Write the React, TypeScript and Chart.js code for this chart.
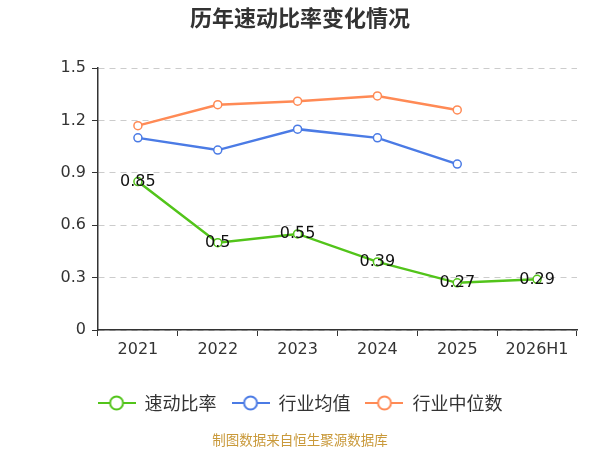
import React, { useEffect, useRef } from 'react';
import { Chart, registerables } from 'chart.js';

Chart.register(...registerables);

// 数据
const categories = ['2021', '2022', '2023', '2024', '2025', '2026H1'];
const quickRatio = [0.85, 0.5, 0.55, 0.39, 0.27, 0.29];
const industryAvg = [1.1, 1.03, 1.15, 1.1, 0.95, null];
const industryMedian = [1.17, 1.29, 1.31, 1.34, 1.26, null];
const yTicks = [0, 0.3, 0.6, 0.9, 1.2, 1.5];

const seriesNames = ['速动比率', '行业均值', '行业中位数'];
const colors = ['#52c41a', '#4b7be5', '#ff8a55'];

const FONT = "'DejaVu Sans', 'Noto Sans CJK SC', sans-serif";
const CJK = "'Noto Sans CJK SC', sans-serif";

// 图例标记：线段 + 空心圆
const makeLegendMarker = (color: string) => {
  const c = document.createElement('canvas');
  c.width = 38;
  c.height = 16;
  const ctx = c.getContext('2d');
  if (ctx) {
    ctx.strokeStyle = color;
    ctx.lineWidth = 2;
    ctx.beginPath();
    ctx.moveTo(0, 8);
    ctx.lineTo(38, 8);
    ctx.stroke();
    ctx.beginPath();
    ctx.arc(19, 8, 6.5, 0, Math.PI * 2);
    ctx.fillStyle = '#fff';
    ctx.fill();
    ctx.stroke();
  }
  return c;
};

const App: React.FC = () => {
  const canvasRef = useRef<HTMLCanvasElement>(null);

  useEffect(() => {
    if (!canvasRef.current) return;
    const markers = colors.map(makeLegendMarker);

    const textPlugin = {
      id: 'extraText',
      afterDatasetsDraw(chart: Chart) {
        const ctx = chart.ctx;
        const meta = chart.getDatasetMeta(0);
        ctx.save();
        ctx.font = `16px ${FONT}`;
        ctx.fillStyle = '#111';
        ctx.textAlign = 'center';
        ctx.textBaseline = 'middle';
        meta.data.forEach((pt: any, i: number) => {
          const v = quickRatio[i];
          if (v == null) return;
          ctx.fillText(String(v), pt.x, pt.y);
        });
        ctx.restore();
      },
      afterDraw(chart: Chart) {
        const ctx = chart.ctx;
        ctx.save();
        ctx.textAlign = 'center';
        ctx.textBaseline = 'middle';
        ctx.font = `bold 22px ${CJK}`;
        ctx.fillStyle = '#333';
        ctx.fillText('历年速动比率变化情况', 300, 18);
        ctx.font = `13.5px ${CJK}`;
        ctx.fillStyle = '#c9993a';
        ctx.fillText('制图数据来自恒生聚源数据库', 300, 440);
        ctx.restore();
      },
    };

    const mkDataset = (i: number, data: (number | null)[]) => ({
      label: seriesNames[i],
      data,
      borderColor: colors[i],
      backgroundColor: '#fff',
      borderWidth: 2.5,
      pointRadius: 4,
      pointBorderWidth: 1.5,
      pointBackgroundColor: '#fff',
      pointBorderColor: colors[i],
      tension: 0,
    });

    const chart = new Chart(canvasRef.current, {
      type: 'line',
      data: {
        labels: categories,
        datasets: [
          mkDataset(0, quickRatio),
          mkDataset(1, industryAvg),
          mkDataset(2, industryMedian),
        ],
      },
      options: {
        responsive: false,
        animation: false,
        layout: { padding: { top: 68, bottom: 28, left: 0, right: 0 } },
        scales: {
          x: {
            offset: true,
            grid: {
              offset: true,
              drawOnChartArea: false,
              drawTicks: true,
              tickLength: 6,
              tickColor: '#333',
            },
            border: { color: '#333', width: 1.5 },
            ticks: {
              color: '#333',
              font: { size: 16, family: FONT },
              padding: 4,
              maxRotation: 0,
              autoSkip: false,
            },
            afterFit: (s: any) => {
              s.height = 49;
            },
          },
          y: {
            min: 0,
            max: 1.5,
            afterBuildTicks: (s: any) => {
              s.ticks = yTicks.map((v) => ({ value: v }));
            },
            grid: {
              color: '#cccccc',
              lineWidth: 1,
              tickColor: '#333',
              tickLength: 6,
            },
            border: { color: '#333', width: 1.5, dash: [6, 5] },
            ticks: {
              color: '#333',
              font: { size: 16, family: FONT },
              padding: 6,
              callback: (v: any) => String(parseFloat(Number(v).toFixed(1))),
            },
            afterFit: (s: any) => {
              s.width = 98;
            },
          },
          yRight: {
            position: 'right',
            display: true,
            grid: { display: false, drawTicks: false },
            border: { display: false },
            ticks: { display: false },
            afterFit: (s: any) => {
              s.width = 23;
            },
          },
        },
        plugins: {
          title: { display: false },
          tooltip: { enabled: false },
          legend: {
            position: 'bottom',
            labels: {
              usePointStyle: true,
              pointStyleWidth: 38,
              padding: 15,
              color: '#333',
              font: { size: 18, family: CJK },
              generateLabels: (c: Chart) =>
                Chart.defaults.plugins.legend.labels.generateLabels(c).map((item: any, i: number) => ({
                  ...item,
                  pointStyle: markers[i],
                })),
            },
          },
        },
      },
      plugins: [textPlugin],
    } as any);

    return () => {
      chart.destroy();
    };
  }, []);

  return (
    <div style={{ position: 'fixed', left: 0, top: 0, width: 600, height: 450, background: '#fff' }}>
      <canvas ref={canvasRef} width={600} height={450} />
    </div>
  );
};

export default App;
